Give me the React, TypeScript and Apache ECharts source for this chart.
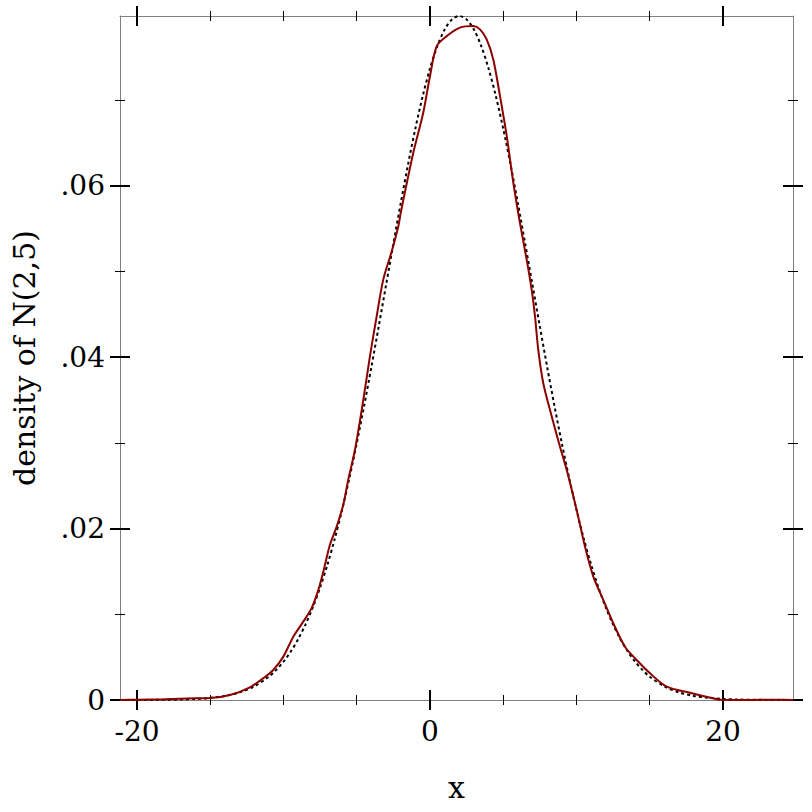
import React, { useEffect, useRef } from "react";
import * as echarts from "echarts";

// ---- data ----
const X_MIN = -21.16;
const X_MAX = 24.78;
const Y_MIN = 0;
const Y_MAX = 0.07979;

const X_MAJOR = [-20, 0, 20];
const X_MINOR = [-15, -10, -5, 5, 10, 15];
const Y_MAJOR = [0, 0.02, 0.04, 0.06];
const Y_MINOR = [0.01, 0.03, 0.05, 0.07];

const X_TITLE = "x";
const Y_TITLE = "density of N(2,5)";

// Kernel density estimate (red)
const KDE_X = [
  -21.16, -20.0, -18.09, -16.04, -15.02, -13.65, -12.29, -11.38, -10.7, -10.01,
  -9.33, -8.65, -8.08, -7.62, -7.28, -6.83, -6.37, -5.92, -5.58, -5.12,
  -4.55, -4.1, -3.64, -3.19, -2.61, -2.16, -1.98, -1.14, -0.46, 0,
  0.46, 1.14, 2.05, 2.96, 3.41, 3.87, 4.32, 4.78, 5.24, 5.69,
  6.14, 6.6, 6.94, 7.17, 7.39, 7.73, 8.31, 8.87, 9.33, 10.01,
  10.58, 11.15, 11.83, 12.51, 13.31, 14.11, 15.02, 16.16, 17.75, 19.34,
  19.91, 22.0, 23.5, 24.78,
];
const KDE_Y = [
  0, 0.00003, 0.0001, 0.0002, 0.00023, 0.00058, 0.00148, 0.00253, 0.0035, 0.00506,
  0.00739, 0.00914, 0.01071, 0.01284, 0.01498, 0.0181, 0.02023, 0.02277, 0.02569, 0.02919,
  0.03503, 0.04008, 0.04475, 0.04904, 0.05234, 0.05526, 0.05698, 0.06383, 0.0685, 0.07277,
  0.07628, 0.07744, 0.07843, 0.07861, 0.07823, 0.07706, 0.07472, 0.07044, 0.06577, 0.06033,
  0.05566, 0.05137, 0.04787, 0.04475, 0.04086, 0.03698, 0.03308, 0.02957, 0.02685, 0.02218,
  0.0179, 0.0144, 0.01168, 0.00896, 0.00622, 0.00467, 0.00312, 0.00155, 0.00085, 0.0002,
  0.00002, 0.00001, 0.00003, 0.00001,
];

// Reference density (black dotted)
const PDF_X = [
  -21.16, -21, -20, -19, -18, -17, -16, -15, -14, -13, -12, -11,
  -10.5, -10, -9.5, -9, -8.5, -8, -7.5, -7, -6.5, -6, -5.5, -5, -4.5, -4,
  -3.5, -3, -2.5, -2, -1.5, -1, -0.5, 0, 0.5, 1, 1.5, 2, 2.5, 3, 3.5, 4,
  4.5, 5, 5.5, 6, 6.5, 7, 7.5, 8, 8.5, 9, 9.5, 10, 10.5, 11, 11.5, 12,
  12.5, 13, 13.5, 14, 14.5, 15, 16, 17, 18, 19, 20, 21, 22, 23, 24, 24.78,
];
const PDF_Y = [
  0.0000017, 0.000002, 0.000005, 0.0000118, 0.0000268, 0.0000584, 0.000122, 0.000246,
  0.000477, 0.000886, 0.001583, 0.002717,
  0.003506, 0.004479, 0.005664, 0.007095, 0.008797, 0.010798, 0.013125, 0.01579,
  0.01881, 0.022184, 0.025904, 0.029946, 0.034274, 0.038837,
  0.04357, 0.048394, 0.053217, 0.057938, 0.062451, 0.066645, 0.070413, 0.073654,
  0.076278, 0.078209, 0.07939, 0.079788, 0.07939, 0.078209, 0.076278, 0.073654,
  0.070413, 0.066645, 0.062451, 0.057938, 0.053217, 0.048394, 0.04357, 0.038837,
  0.034274, 0.029946, 0.025904, 0.022184, 0.01881, 0.01579, 0.013125, 0.010798,
  0.008797, 0.007095, 0.005664, 0.004479, 0.003506, 0.002717, 0.001583, 0.000886,
  0.000477, 0.000246, 0.000122, 0.0000584, 0.0000268, 0.0000118, 0.000005, 0.0000025,
];

const FONT = "DejaVu Serif";
const AXIS_GRAY = "#808080";
const TICK_FONT_SIZE = 28;
const TITLE_FONT_SIZE = 30;

function fmtY(v: number): string {
  if (v === 0) return "0";
  return String(+v.toFixed(4)).replace(/^0/, "");
}

function baseAxis(type: "x" | "y", position: string) {
  return {
    type: "value",
    position,
    min: type === "x" ? X_MIN : Y_MIN,
    max: type === "x" ? X_MAX : Y_MAX,
    splitLine: { show: false },
    axisLine: { show: false, onZero: false },
    axisTick: { show: false },
    axisLabel: { show: false },
  };
}

function lineAxis(type: "x" | "y", position: string) {
  return {
    ...baseAxis(type, position),
    axisLine: { show: true, onZero: false, lineStyle: { color: AXIS_GRAY, width: 1 } },
  };
}

function tickAxis(type: "x" | "y", position: string, values: number[], half: number, width: number) {
  return {
    ...baseAxis(type, position),
    offset: -half,
    axisTick: {
      show: true,
      customValues: values,
      length: half * 2,
      lineStyle: { color: "#000", width },
    },
  };
}

export default function App() {
  const ref = useRef<HTMLDivElement>(null);

  useEffect(() => {
    if (!ref.current) return;
    const chart = echarts.init(ref.current, null, { renderer: "svg" });

    const kde = KDE_X.map((x, i) => [x, KDE_Y[i]]);
    const pdf = PDF_X.map((x, i) => [x, PDF_Y[i]]);

    const xMain = {
      ...lineAxis("x", "bottom"),
      axisLabel: {
        show: true,
        customValues: X_MAJOR,
        margin: 17,
        fontFamily: FONT,
        fontSize: TICK_FONT_SIZE,
        color: "#000",
      },
      name: X_TITLE,
      nameLocation: "middle",
      nameGap: 72,
      nameTextStyle: { fontFamily: FONT, fontSize: TITLE_FONT_SIZE, color: "#000" },
    };
    const yMain = {
      ...lineAxis("y", "left"),
      axisLabel: {
        show: true,
        customValues: Y_MAJOR,
        margin: 15,
        fontFamily: FONT,
        fontSize: TICK_FONT_SIZE,
        color: "#000",
        formatter: (v: number) => fmtY(v),
      },
      name: Y_TITLE,
      nameLocation: "middle",
      nameGap: 81,
      nameTextStyle: { fontFamily: FONT, fontSize: TITLE_FONT_SIZE, color: "#000" },
    };

    chart.setOption({
      animation: false,
      backgroundColor: "#fff",
      grid: { left: 120, top: 16, right: 19, bottom: 112, containLabel: false },
      xAxis: [
        xMain,
        tickAxis("x", "bottom", X_MAJOR, 10, 2),
        tickAxis("x", "bottom", X_MINOR, 5, 1),
        lineAxis("x", "top"),
        tickAxis("x", "top", X_MAJOR, 10, 2),
        tickAxis("x", "top", X_MINOR, 5, 1),
      ],
      yAxis: [
        yMain,
        tickAxis("y", "left", Y_MAJOR, 10, 2),
        tickAxis("y", "left", Y_MINOR, 5, 1),
        lineAxis("y", "right"),
        tickAxis("y", "right", Y_MAJOR, 10, 2),
        tickAxis("y", "right", Y_MINOR, 5, 1),
      ],
      series: [
        {
          name: "N(2,5)",
          type: "line",
          data: pdf,
          xAxisIndex: 0,
          yAxisIndex: 0,
          showSymbol: false,
          smooth: 0.3,
          lineStyle: { color: "#000", width: 2, type: [3, 3] },
          z: 2,
        },
        {
          name: "density",
          type: "line",
          data: kde,
          xAxisIndex: 0,
          yAxisIndex: 0,
          showSymbol: false,
          smooth: 0.3,
          lineStyle: { color: "#8b0000", width: 2 },
          z: 3,
        },
      ],
    });

    return () => chart.dispose();
  }, []);

  return (
    <div
      ref={ref}
      style={{ position: "absolute", left: 0, top: 0, width: 812, height: 812 }}
    />
  );
}
